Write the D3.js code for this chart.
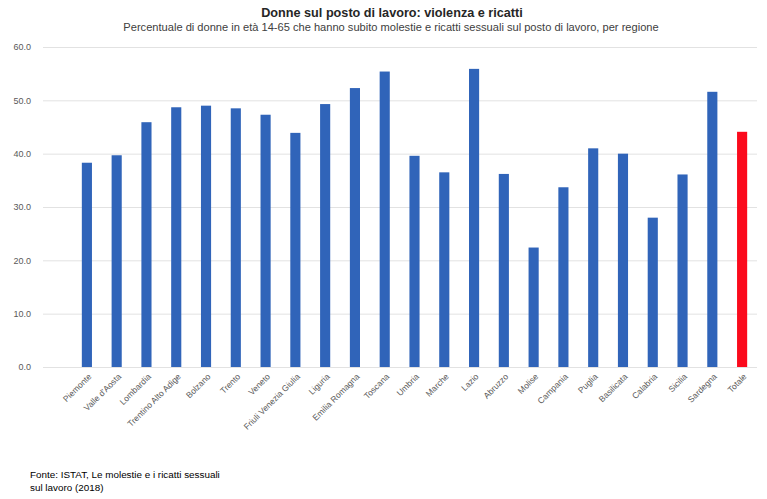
<!DOCTYPE html>
<html>
<head>
<meta charset="utf-8">
<script src="https://cdn.jsdelivr.net/npm/d3@7"></script>
<style>
  body { margin: 0; background: #fff; }
  svg { display: block; font-family: "Liberation Sans", "DejaVu Sans", sans-serif; }
</style>
</head>
<body>
<div class="content"></div>
<script>
(function (window) {
    'use strict';

    var regions = ["Piemonte", "Valle d'Aosta", "Lombardia", "Trentino Alto Adige", "Bolzano", "Trento",
        "Veneto", "Friuli Venezia Giulia", "Liguria", "Emilia Romagna", "Toscana", "Umbria", "Marche",
        "Lazio", "Abruzzo", "Molise", "Campania", "Puglia", "Basilicata", "Calabria", "Sicilia",
        "Sardegna", "Totale"];
    var values = [38.3, 39.7, 45.9, 48.7, 49.0, 48.5, 47.3, 43.9, 49.3, 52.3, 55.4, 39.6, 36.5,
        55.9, 36.2, 22.4, 33.7, 41.0, 40.0, 28.0, 36.1, 51.6, 44.1];
    var yTicks = [0, 10, 20, 30, 40, 50, 60];

    var W = 767, H = 499,
        opts = {
            gridLeft: 43,
            bandLeft: 72,
            right: 757,
            top: 47,
            bottom: 367,
            blue: "#3064b9",
            red: "#fb0a1c",
            grid: "#e2e2e2",
            tickColor: "#595959"
        };

    var svg = d3.select(".content").append("svg")
        .attr("width", W)
        .attr("height", H);

    var x = d3.scaleBand()
        .domain(regions)
        .range([opts.bandLeft, opts.right])
        .paddingInner(0.66)
        .paddingOuter(0.33);

    var y = d3.scaleLinear()
        .domain([0, 60])
        .range([opts.bottom, opts.top]);

    // gridlines
    svg.append("g").selectAll("line")
        .data(yTicks)
        .enter().append("line")
        .attr("x1", opts.gridLeft)
        .attr("x2", opts.right)
        .attr("y1", function (d) { return y(d) + 0.5; })
        .attr("y2", function (d) { return y(d) + 0.5; })
        .attr("stroke", opts.grid)
        .attr("stroke-width", 1);

    // y axis labels
    var yAxis = d3.axisLeft(y).tickValues(yTicks).tickFormat(d3.format(".1f")).tickSize(0).tickPadding(0);
    var gy = svg.append("g")
        .attr("transform", "translate(31,0)")
        .call(yAxis);
    gy.select(".domain").remove();
    gy.selectAll("text")
        .attr("fill", opts.tickColor)
        .attr("font-size", "9px")
        .attr("font-family", "Liberation Sans, sans-serif");

    // bars
    svg.append("g").selectAll("rect")
        .data(regions)
        .enter().append("rect")
        .attr("x", function (d) { return x(d); })
        .attr("width", x.bandwidth())
        .attr("y", function (d, i) { return y(values[i]); })
        .attr("height", function (d, i) { return y(0) - y(values[i]); })
        .attr("fill", function (d) { return d === "Totale" ? opts.red : opts.blue; });

    // x axis labels
    var xAxis = d3.axisBottom(x).tickSize(0).tickPadding(0);
    var gx = svg.append("g")
        .attr("transform", "translate(0," + (opts.bottom + 8) + ")")
        .call(xAxis);
    gx.select(".domain").remove();
    gx.selectAll("text")
        .attr("fill", opts.tickColor)
        .attr("font-size", "8.5px")
        .attr("font-family", "Liberation Sans, sans-serif")
        .attr("text-anchor", "end")
        .attr("dy", "0.35em")
        .attr("transform", "translate(3,0) rotate(-45)");

    // title & subtitle
    function fitText(sel, width) {
        var len = sel.node().getComputedTextLength(),
            fs = parseFloat(sel.attr("font-size"));
        sel.attr("font-size", (fs * width / len) + "px");
    }

    var title = svg.append("text")
        .attr("x", 392)
        .attr("y", 17)
        .attr("text-anchor", "middle")
        .attr("font-size", "14px")
        .attr("font-weight", "bold")
        .attr("fill", "#262626")
        .text("Donne sul posto di lavoro: violenza e ricatti");
    fitText(title, 262);

    var subtitle = svg.append("text")
        .attr("x", 391)
        .attr("y", 31)
        .attr("text-anchor", "middle")
        .attr("font-size", "11px")
        .attr("fill", "#404040")
        .text("Percentuale di donne in età 14-65 che hanno subito molestie e ricatti sessuali sul posto di lavoro, per regione");
    fitText(subtitle, 536);

    // source
    var src1 = svg.append("text")
        .attr("x", 30)
        .attr("y", 478)
        .attr("font-size", "10px")
        .attr("fill", "#000")
        .text("Fonte: ISTAT, Le molestie e i ricatti sessuali");
    fitText(src1, 190);
    svg.append("text")
        .attr("x", 30)
        .attr("y", 491)
        .attr("font-size", src1.attr("font-size"))
        .attr("fill", "#000")
        .text("sul lavoro (2018)");
}(window));
</script>
</body>
</html>
